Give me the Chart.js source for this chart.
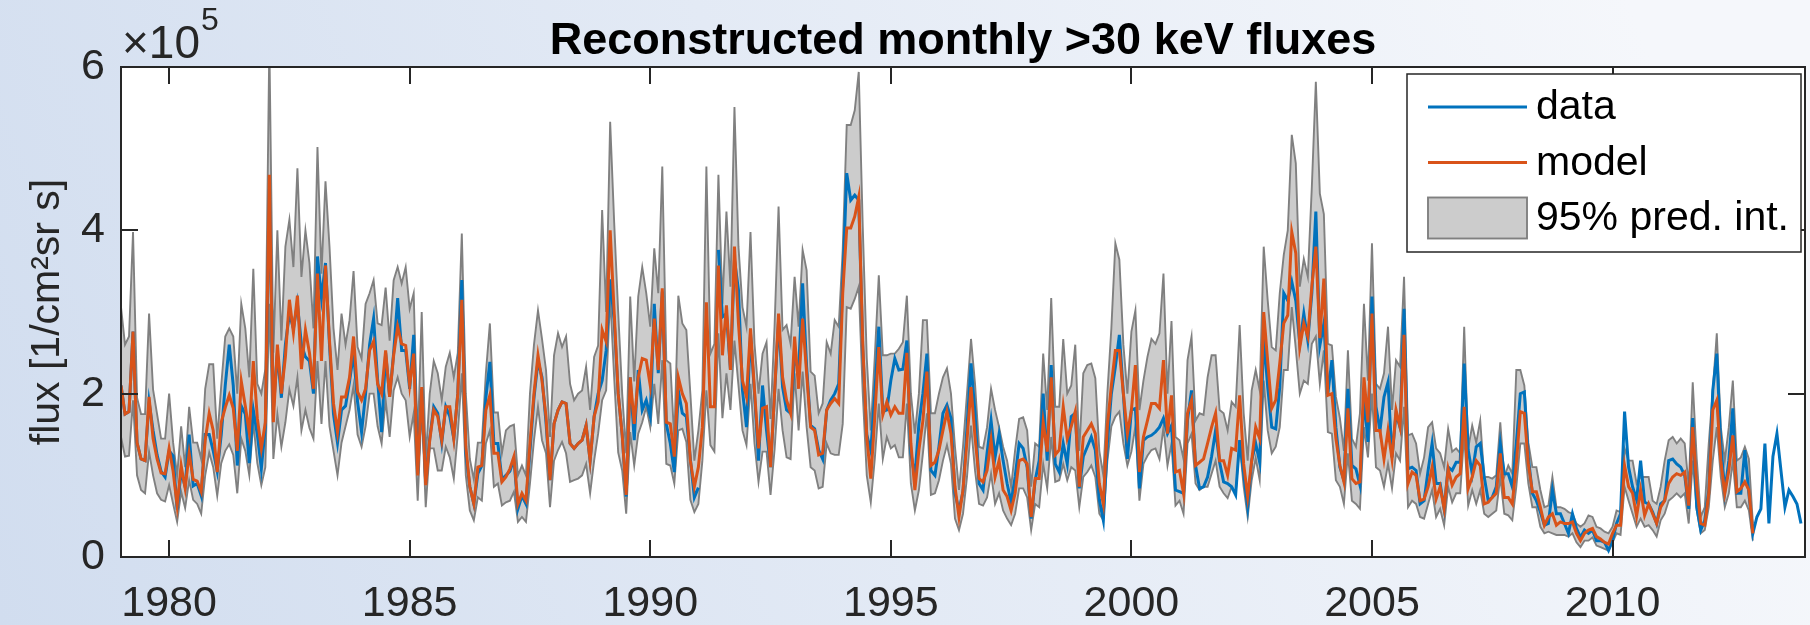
<!DOCTYPE html>
<html>
<head>
<meta charset="utf-8">
<title>Reconstructed monthly &gt;30 keV fluxes</title>
<script src="https://cdn.jsdelivr.net/npm/chart.js@4.4.1/dist/chart.umd.min.js"></script>
<style>
  html, body { margin: 0; padding: 0; background: #ffffff; }
  #plot { display: block; }
</style>
</head>
<body>
<canvas id="plot" width="1810" height="625"></canvas>
<script>
// Monthly >30 keV electron flux, January 1979 onwards.
// All values in units of 1e5 per (cm^2 sr s); one row per year.
const startYear = 1979;
const xTickYears = [1980, 1985, 1990, 1995, 2000, 2005, 2010];
const yTickValues = [0, 2, 4, 6];

// measured fluxes (gap in early 1991), Jan 1979 - Dec 2013
const measuredFlux = [
  2.10,1.75,1.78,2.76,1.40,1.20,1.18,1.90,1.55,1.25,1.05,0.98,
  1.30,1.24,0.58,1.05,0.86,1.50,0.87,0.90,0.75,1.50,1.50,1.30,
  1.05,1.50,2.10,2.60,2.10,1.12,1.85,1.75,1.15,1.80,1.50,1.08,
  1.60,4.50,1.80,2.50,1.95,2.60,2.98,2.80,3.10,2.60,2.45,2.40,
  2.00,3.68,3.17,3.60,2.60,1.75,1.40,1.80,1.85,2.15,2.50,1.90,
  1.53,2.00,2.60,2.92,2.17,1.53,2.50,1.96,2.50,3.17,2.53,2.53,
  2.06,2.72,1.02,2.06,0.90,1.45,1.84,1.76,1.40,1.84,1.72,1.45,
  2.00,3.39,1.27,0.86,0.65,1.02,1.12,1.95,2.39,1.39,1.39,0.95,
  1.00,1.05,1.20,0.59,0.75,0.65,1.30,1.95,2.40,2.20,1.65,0.94,
  1.63,1.80,1.90,1.88,1.39,1.33,1.39,1.43,1.61,1.18,1.72,2.00,
  2.16,2.53,3.40,2.90,2.00,1.50,0.74,2.20,1.43,2.29,1.80,1.92,
  1.72,3.10,2.25,3.25,1.63,1.39,1.04,2.04,1.76,1.72,1.20,0.73,
  0.85,null,null,null,null,3.76,2.94,2.98,2.29,3.64,3.27,2.04,
  1.59,2.74,2.00,1.18,2.10,1.55,1.10,2.00,2.90,2.08,1.80,1.76,
  2.45,2.29,3.35,2.33,1.61,1.57,1.31,1.20,1.80,1.92,2.00,2.12,
  3.35,4.70,4.37,4.43,4.37,2.55,1.50,1.30,2.00,2.82,1.78,1.80,
  2.16,2.43,2.29,2.30,2.65,1.27,0.98,1.63,2.00,2.49,1.06,1.00,
  1.35,1.76,1.86,1.70,0.78,0.57,0.80,1.59,2.37,1.76,0.90,0.82,
  1.27,1.67,1.22,1.51,1.18,0.90,0.67,0.98,1.39,1.33,1.10,0.47,
  0.94,1.18,2.00,1.18,2.35,1.14,1.04,1.39,1.14,1.72,1.76,0.84,
  1.23,1.35,1.47,1.31,0.70,0.45,1.39,2.00,2.33,2.72,2.00,1.20,
  1.80,1.82,0.84,1.43,1.47,1.49,1.53,1.59,1.70,1.51,1.61,0.82,
  0.80,0.78,1.68,2.04,1.12,0.84,0.86,0.98,1.23,1.55,1.16,0.92,
  0.90,0.86,0.76,1.43,1.02,0.61,1.18,1.39,1.16,2.70,2.08,1.59,
  1.57,2.08,3.23,3.14,3.37,3.14,2.61,2.98,2.65,3.23,4.23,2.59,
  2.86,2.00,2.41,1.59,1.10,0.94,2.06,1.12,1.08,0.88,1.96,1.41,
  3.19,1.84,1.55,1.96,2.14,1.22,1.76,1.59,3.04,1.08,1.10,1.06,
  0.65,0.69,1.06,1.39,0.90,0.90,0.59,1.10,1.06,1.16,1.16,2.37,
  1.31,1.02,1.35,1.39,0.98,0.69,0.73,0.86,1.39,1.02,1.02,0.86,
  1.39,2.00,2.02,1.22,0.78,0.69,0.55,0.39,0.41,0.82,0.53,0.53,
  0.41,0.29,0.53,0.35,0.24,0.33,0.29,0.33,0.20,0.20,0.18,0.08,
  0.20,0.41,0.53,1.78,1.10,0.86,0.70,1.18,0.67,0.65,0.55,0.41,
  0.65,0.69,1.18,1.20,1.14,1.10,1.00,0.59,1.70,0.61,0.33,0.45,
  0.82,2.04,2.49,1.39,0.80,1.18,1.82,0.78,0.78,1.31,0.78,0.29,
  0.49,0.59,1.39,0.41,1.23,1.51,1.06,0.61,0.82,0.74,0.65,0.41
];

// model reconstruction, Jan 1979 - Dec 2012
const modelFlux = [
  2.10,1.75,1.78,2.76,1.40,1.20,1.18,1.96,1.45,1.20,1.03,1.02,
  1.33,1.05,0.63,1.12,0.84,1.27,0.95,0.93,0.80,1.43,1.76,1.55,
  1.04,1.65,1.83,1.98,1.82,1.30,2.15,1.85,1.52,2.40,1.70,1.33,
  1.65,4.68,1.65,2.60,2.00,2.45,3.15,2.75,3.20,2.30,2.78,2.50,
  2.06,3.47,2.40,3.57,2.65,1.88,1.53,1.96,1.96,2.20,2.70,2.02,
  1.92,2.06,2.53,2.64,2.12,2.00,2.53,1.96,2.47,2.82,2.61,2.59,
  2.10,2.49,1.00,2.08,0.88,1.43,1.80,1.72,1.43,1.84,1.84,1.45,
  2.00,3.15,1.35,0.86,0.65,1.10,1.12,1.80,1.98,1.27,1.27,0.92,
  0.98,1.08,1.23,0.65,0.78,0.69,1.39,2.00,2.47,2.16,1.72,0.94,
  1.63,1.80,1.90,1.88,1.39,1.33,1.39,1.43,1.61,1.18,1.72,1.90,
  2.78,2.64,4.00,3.00,2.00,1.50,0.76,2.20,1.63,2.20,2.43,2.41,
  2.10,2.92,2.29,3.29,1.65,1.63,1.23,2.20,2.00,1.88,1.18,0.86,
  1.10,1.59,3.12,1.84,1.84,3.57,2.47,3.08,2.29,3.80,2.86,2.16,
  1.96,2.80,2.04,1.33,1.82,1.84,1.10,2.00,2.98,2.20,1.92,1.76,
  2.70,2.06,2.92,2.25,1.59,1.55,1.25,1.27,1.80,1.88,1.94,1.88,
  3.23,4.03,4.03,4.17,4.41,2.61,1.47,0.96,1.72,2.57,1.74,1.90,
  1.74,1.84,1.76,1.76,2.50,1.39,0.82,1.31,1.67,2.27,1.12,1.16,
  1.31,1.55,1.78,1.51,0.86,0.49,0.82,1.43,2.08,1.47,0.96,0.92,
  1.06,1.43,0.98,1.18,0.82,0.74,0.57,0.78,1.18,1.20,1.14,0.49,
  0.96,0.96,1.65,1.29,2.20,1.25,1.31,1.84,1.45,1.60,1.78,0.86,
  1.47,1.55,1.63,1.51,0.90,0.65,1.60,2.10,2.53,2.53,2.00,1.51,
  1.80,2.35,1.04,1.47,1.67,1.88,1.88,1.82,2.41,1.51,1.98,1.04,
  1.06,0.78,1.76,1.92,1.12,1.16,1.20,1.39,1.59,1.76,1.18,1.18,
  1.00,1.33,1.31,1.98,1.14,0.74,1.18,1.59,1.45,3.00,2.39,1.82,
  1.92,2.37,2.86,2.96,3.98,3.72,2.57,2.86,2.70,3.31,3.80,2.68,
  3.41,1.98,2.00,1.45,1.12,0.92,1.82,0.96,0.90,0.92,2.20,1.65,
  2.98,1.55,1.55,1.20,1.55,1.20,1.80,1.59,2.72,0.90,1.04,1.00,
  0.69,0.71,0.86,1.10,0.71,0.86,0.59,1.08,0.88,0.98,1.02,1.84,
  0.84,0.98,1.18,1.12,0.65,0.67,0.73,0.78,1.27,0.73,0.73,0.65,
  1.14,1.78,1.76,1.14,0.80,0.80,0.61,0.39,0.49,0.53,0.39,0.43,
  0.41,0.41,0.43,0.29,0.20,0.29,0.33,0.35,0.25,0.22,0.18,0.16,
  0.29,0.39,0.39,1.12,0.86,0.78,0.50,0.82,0.51,0.65,0.53,0.41,
  0.61,0.69,0.90,0.98,1.02,1.00,1.04,0.63,1.59,0.86,0.41,0.39,
  0.78,1.80,1.92,1.18,0.78,1.06,1.49,0.80,0.84,0.92,0.82,0.29
];

// upper edge of the 95% prediction interval
const upperBound = [
  3.06,2.60,2.70,3.98,1.95,1.75,1.75,2.98,2.05,1.75,1.45,1.45,
  2.00,1.40,1.00,1.60,1.10,1.84,1.40,1.40,1.20,2.06,2.36,2.36,
  1.45,2.10,2.70,2.80,2.70,2.00,3.10,2.80,2.20,3.53,2.12,2.00,
  2.30,6.30,2.50,4.00,2.65,3.80,4.13,3.55,4.76,3.43,4.00,3.60,
  2.80,5.02,3.47,4.60,3.80,2.80,2.29,2.98,2.60,2.90,3.50,2.57,
  2.43,3.10,3.23,3.39,2.86,2.84,3.30,2.65,3.39,3.55,3.35,3.55,
  3.04,3.23,1.40,3.00,1.20,2.00,2.40,2.25,1.92,2.33,2.50,2.20,
  2.50,3.96,2.00,1.20,0.95,1.40,1.40,2.25,2.86,1.77,1.77,1.27,
  1.55,1.60,1.62,1.00,1.12,1.00,2.00,2.60,3.02,2.67,2.29,1.47,
  2.47,2.74,2.57,2.70,2.12,1.92,2.00,2.04,2.33,1.80,2.45,2.59,
  4.25,3.00,5.33,4.10,3.00,2.00,1.27,3.19,2.15,3.19,3.55,3.23,
  2.82,3.78,3.23,4.78,2.41,2.37,1.43,3.20,2.86,2.78,2.00,1.18,
  1.55,2.04,4.78,2.49,2.61,4.68,3.10,4.23,3.31,5.51,3.80,3.06,
  2.82,3.98,2.61,2.00,2.49,2.63,1.69,2.82,4.29,2.78,2.84,2.61,
  3.43,2.82,3.76,3.51,2.27,2.22,1.76,1.88,2.63,2.49,2.90,2.82,
  3.76,5.29,5.29,5.47,5.94,4.04,2.43,1.55,2.45,3.45,2.47,2.47,
  2.49,2.49,2.55,2.63,3.20,2.00,1.51,2.00,2.90,2.90,1.76,1.76,
  2.00,2.20,2.31,2.00,1.35,0.82,1.35,2.00,2.67,2.12,1.35,1.33,
  1.59,2.06,1.80,1.59,1.35,1.18,0.86,1.31,1.69,1.71,1.55,0.86,
  1.39,1.35,2.49,1.80,3.17,1.84,1.84,2.67,2.00,2.10,2.60,1.30,
  2.25,2.35,2.37,2.19,1.30,1.00,2.00,2.80,3.84,3.64,2.60,2.00,
  2.76,3.02,1.80,2.16,2.45,2.67,2.61,2.74,3.47,2.00,2.89,1.47,
  1.43,1.20,2.41,2.70,1.67,1.76,1.74,2.20,2.47,2.47,1.80,1.76,
  1.55,1.90,1.84,2.84,1.76,1.18,2.04,2.29,2.04,3.80,3.14,2.57,
  2.53,3.23,3.70,4.00,5.17,4.82,3.31,3.65,3.43,4.53,5.82,4.45,
  4.20,2.61,2.59,1.96,1.70,1.30,2.53,1.45,1.35,1.76,3.10,2.16,
  3.84,2.12,2.06,2.25,2.82,1.80,2.41,2.33,3.43,1.49,1.51,1.39,
  1.02,1.22,1.59,1.65,1.33,1.27,1.10,1.57,1.29,1.33,1.27,2.82,
  1.33,1.61,1.40,1.67,0.98,0.98,0.96,1.00,1.65,0.98,1.12,1.02,
  2.29,2.29,2.10,1.40,1.10,1.10,0.82,0.61,0.63,0.98,0.61,0.61,
  0.59,0.55,0.53,0.41,0.37,0.41,0.51,0.49,0.37,0.35,0.31,0.29,
  0.37,0.57,0.55,1.33,1.18,1.18,0.90,0.98,0.98,0.98,0.69,0.65,
  0.86,1.18,1.43,1.47,1.39,1.45,1.39,0.86,2.14,1.20,0.49,0.61,
  1.39,2.04,2.74,1.59,1.18,1.59,2.16,1.18,1.22,1.35,1.20,0.41
];

// lower edge of the 95% prediction interval
const lowerBound = [
  1.47,1.23,1.24,1.92,1.00,0.82,0.78,1.29,1.00,0.78,0.70,0.68,
  0.88,0.65,0.43,0.80,0.60,0.94,0.70,0.65,0.53,1.00,1.28,1.10,
  0.75,1.15,1.30,1.38,1.25,0.78,1.45,1.30,1.00,1.65,1.15,0.88,
  1.10,3.10,1.20,1.75,1.35,1.65,2.05,1.85,2.20,1.55,1.80,1.58,
  1.45,2.40,1.63,2.40,1.60,1.30,1.00,1.40,1.60,1.80,2.10,1.50,
  1.35,1.60,2.00,2.00,1.60,1.39,1.92,1.47,2.04,2.20,2.00,1.92,
  1.47,1.76,0.69,1.84,0.61,1.33,1.33,1.06,1.06,1.35,1.22,0.96,
  1.51,2.25,1.00,0.57,0.45,0.73,0.69,1.39,1.55,0.86,0.90,0.63,
  0.67,0.69,0.80,0.43,0.49,0.43,0.90,1.43,1.84,1.43,1.27,0.61,
  1.18,1.31,1.41,1.27,0.92,0.94,0.96,1.00,1.14,0.78,1.18,1.51,
  1.92,2.04,3.20,2.20,1.28,1.06,0.53,1.53,1.12,1.51,1.65,1.84,
  1.59,2.12,1.63,2.41,1.14,1.12,0.90,1.55,1.57,1.41,0.70,0.55,
  0.65,1.18,2.04,1.37,1.29,2.74,1.70,2.25,1.80,2.65,2.10,1.55,
  1.37,2.12,1.39,0.92,1.29,1.29,0.76,1.31,2.06,1.55,1.22,1.20,
  2.25,1.55,2.27,1.59,1.10,1.06,0.84,0.86,1.39,1.27,1.25,1.25,
  1.63,3.06,3.04,3.16,3.31,2.00,1.00,0.67,1.20,1.88,1.20,1.47,
  1.33,1.37,1.22,1.22,1.88,0.90,0.57,0.82,1.27,1.76,0.76,0.78,
  0.94,1.18,1.37,1.14,0.47,0.33,0.53,0.98,1.61,1.06,0.65,0.63,
  0.73,1.02,0.65,0.78,0.57,0.47,0.39,0.53,0.84,0.84,0.73,0.33,
  0.65,0.61,1.14,0.84,1.47,0.92,0.94,1.14,0.94,1.10,1.06,0.61,
  0.98,1.04,1.12,0.98,0.53,0.45,1.17,1.60,1.72,1.78,1.39,1.12,
  1.29,1.60,0.69,1.14,1.24,1.31,1.33,1.20,1.59,1.12,1.39,0.63,
  0.69,0.53,1.39,1.51,0.90,0.82,0.86,0.86,1.02,1.18,0.86,0.78,
  0.72,0.86,0.78,1.39,0.86,0.49,0.94,1.21,0.94,2.16,1.55,1.27,
  1.35,1.59,2.29,2.29,3.06,2.55,2.00,2.16,2.12,2.61,2.70,2.12,
  2.53,1.53,1.51,0.94,0.86,0.65,1.27,0.69,0.65,0.59,1.59,1.22,
  2.00,1.10,1.06,0.86,1.14,0.84,1.27,1.18,1.84,0.61,0.69,0.65,
  0.49,0.47,0.65,0.82,0.49,0.59,0.39,0.86,0.67,0.78,0.78,1.51,
  0.63,0.82,0.65,0.82,0.53,0.49,0.53,0.57,0.98,0.53,0.51,0.45,
  0.86,1.39,1.39,0.90,0.61,0.61,0.37,0.29,0.31,0.29,0.27,0.27,
  0.27,0.25,0.29,0.18,0.12,0.20,0.20,0.24,0.14,0.12,0.10,0.08,
  0.18,0.29,0.27,0.86,0.69,0.53,0.37,0.47,0.37,0.39,0.33,0.25,
  0.45,0.53,0.69,0.73,0.78,0.73,0.78,0.41,1.18,0.57,0.29,0.33,
  0.61,1.18,1.59,0.98,0.61,0.78,1.18,0.61,0.61,0.69,0.57,0.20
];

const seriesNames = ['data', 'model', '95% pred. int.'];
const chartTitle = 'Reconstructed monthly >30 keV fluxes';

// month index -> decimal year
const toPoints = values => values.map((v, i) => ({ x: startYear + i / 12, y: v }));

const FONT = '"Liberation Sans", Arial, Helvetica, sans-serif';
const AXIS_COLOR = '#262626';
Chart.defaults.font.family = FONT;

// figure background (soft blue gradient) and white axes area
const figureBackground = {
  id: 'figureBackground',
  beforeDraw(chart) {
    const { ctx, width, height, chartArea: a } = chart;
    ctx.save();
    const g = ctx.createLinearGradient(0, height, width * 0.9, 0);
    g.addColorStop(0, '#d1ddef');
    g.addColorStop(1, '#f5f7fb');
    ctx.fillStyle = g;
    ctx.fillRect(0, 0, width, height);
    ctx.fillStyle = '#ffffff';
    ctx.fillRect(a.left, a.top, a.right - a.left, a.bottom - a.top);
    ctx.restore();
  }
};

// boxed axes with inward tick marks on all four sides
const axesBox = {
  id: 'axesBox',
  afterDatasetsDraw(chart) {
    const { ctx, chartArea: a, scales: { x, y } } = chart;
    const len = 17;
    ctx.save();
    ctx.strokeStyle = AXIS_COLOR;
    ctx.lineWidth = 2;
    ctx.beginPath();
    xTickYears.forEach(v => {
      const px = Math.round(x.getPixelForValue(v));
      ctx.moveTo(px, a.bottom); ctx.lineTo(px, a.bottom - len);
      ctx.moveTo(px, a.top);    ctx.lineTo(px, a.top + len);
    });
    yTickValues.forEach(v => {
      const py = Math.round(y.getPixelForValue(v));
      ctx.moveTo(a.left, py);  ctx.lineTo(a.left + len, py);
      ctx.moveTo(a.right, py); ctx.lineTo(a.right - len, py);
    });
    ctx.stroke();
    ctx.strokeRect(a.left, a.top, a.right - a.left, a.bottom - a.top);
    ctx.restore();
  }
};

// title centred over the axes, and the "×10^5" multiplier above the y axis
const axesAnnotations = {
  id: 'axesAnnotations',
  afterDraw(chart) {
    const { ctx, chartArea: a } = chart;
    ctx.save();
    ctx.textBaseline = 'alphabetic';

    ctx.fillStyle = '#000000';
    ctx.textAlign = 'center';
    ctx.font = 'bold 45px ' + FONT;
    ctx.fillText(chartTitle, (a.left + a.right) / 2, a.top - 13);

    ctx.fillStyle = AXIS_COLOR;
    ctx.textAlign = 'left';
    ctx.font = '46px ' + FONT;
    const base = '\u00d710';
    ctx.fillText(base, a.left + 1, a.top - 9);
    const w = ctx.measureText(base).width;
    ctx.font = '32px ' + FONT;
    ctx.fillText('5', a.left + 2 + w, a.top - 37);
    ctx.restore();
  }
};

// boxed legend in the upper right corner of the axes
const boxedLegend = {
  id: 'boxedLegend',
  afterDraw(chart) {
    const { ctx, chartArea: a } = chart;
    const ds = chart.data.datasets;
    const box = { left: a.right - 398, top: a.top + 7, right: a.right - 4, bottom: a.top + 185 };
    const rowY = [box.top + 33, box.top + 88.5, box.top + 144];
    const sx0 = box.left + 21, sx1 = box.left + 120, tx = box.left + 129;
    ctx.save();
    ctx.fillStyle = '#ffffff';
    ctx.fillRect(box.left, box.top, box.right - box.left, box.bottom - box.top);
    ctx.strokeStyle = AXIS_COLOR;
    ctx.lineWidth = 1.5;
    ctx.strokeRect(box.left, box.top, box.right - box.left, box.bottom - box.top);

    const lineSample = (dset, yy) => {
      ctx.strokeStyle = dset.borderColor;
      ctx.lineWidth = dset.borderWidth;
      ctx.beginPath(); ctx.moveTo(sx0, yy); ctx.lineTo(sx1, yy); ctx.stroke();
    };
    lineSample(ds[2], rowY[0]);
    lineSample(ds[3], rowY[1]);
    ctx.fillStyle = ds[0].backgroundColor;
    ctx.fillRect(sx0, rowY[2] - 20.5, sx1 - sx0, 41);
    ctx.strokeStyle = ds[0].borderColor;
    ctx.lineWidth = ds[0].borderWidth;
    ctx.strokeRect(sx0, rowY[2] - 20.5, sx1 - sx0, 41);

    ctx.fillStyle = '#000000';
    ctx.font = '41px ' + FONT;
    ctx.textAlign = 'left';
    ctx.textBaseline = 'middle';
    seriesNames.forEach((name, k) => ctx.fillText(name, tx, rowY[k] + 1));
    ctx.restore();
  }
};

new Chart(document.getElementById('plot'), {
  type: 'line',
  data: {
    datasets: [
      { label: 'upper', data: toPoints(upperBound), borderColor: '#808080', borderWidth: 1.9,
        backgroundColor: '#cccccc', fill: '+1', pointRadius: 0, order: 4 },
      { label: 'lower', data: toPoints(lowerBound), borderColor: '#808080', borderWidth: 1.9,
        fill: false, pointRadius: 0, order: 3 },
      { label: seriesNames[0], data: toPoints(measuredFlux), borderColor: '#0072BD', borderWidth: 3,
        fill: false, pointRadius: 0, spanGaps: false, order: 2 },
      { label: seriesNames[1], data: toPoints(modelFlux), borderColor: '#D95319', borderWidth: 3,
        fill: false, pointRadius: 0, order: 1 }
    ]
  },
  options: {
    responsive: false,
    animation: false,
    devicePixelRatio: 1,
    events: [],
    layout: { padding: { top: 67, right: 5, bottom: 0, left: 0 } },
    elements: { line: { tension: 0, borderJoinStyle: 'miter' } },
    plugins: {
      legend: { display: false },
      tooltip: { enabled: false },
      title: { display: false }
    },
    scales: {
      x: {
        type: 'linear',
        min: startYear,
        max: 2014,
        afterBuildTicks: s => { s.ticks = xTickYears.map(v => ({ value: v })); },
        afterFit: s => { s.height = 68; },
        grid: { display: false, drawTicks: false },
        border: { display: false },
        ticks: { color: AXIS_COLOR, font: { size: 43 }, padding: 21, maxRotation: 0, autoSkip: false,
                 callback: v => String(v) }
      },
      y: {
        type: 'linear',
        min: 0,
        max: 6,
        afterBuildTicks: s => { s.ticks = yTickValues.map(v => ({ value: v })); },
        afterFit: s => { s.width = 121; },
        grid: { display: false, drawTicks: false },
        border: { display: false },
        ticks: { color: AXIS_COLOR, font: { size: 43 }, padding: 16, callback: v => String(v) },
        title: { display: true, text: 'flux [1/cm\u00b2sr s]', color: AXIS_COLOR,
                 font: { size: 41 }, padding: { top: 23, bottom: 0 } }
      }
    }
  },
  plugins: [figureBackground, axesBox, axesAnnotations, boxedLegend]
});
</script>
</body>
</html>
